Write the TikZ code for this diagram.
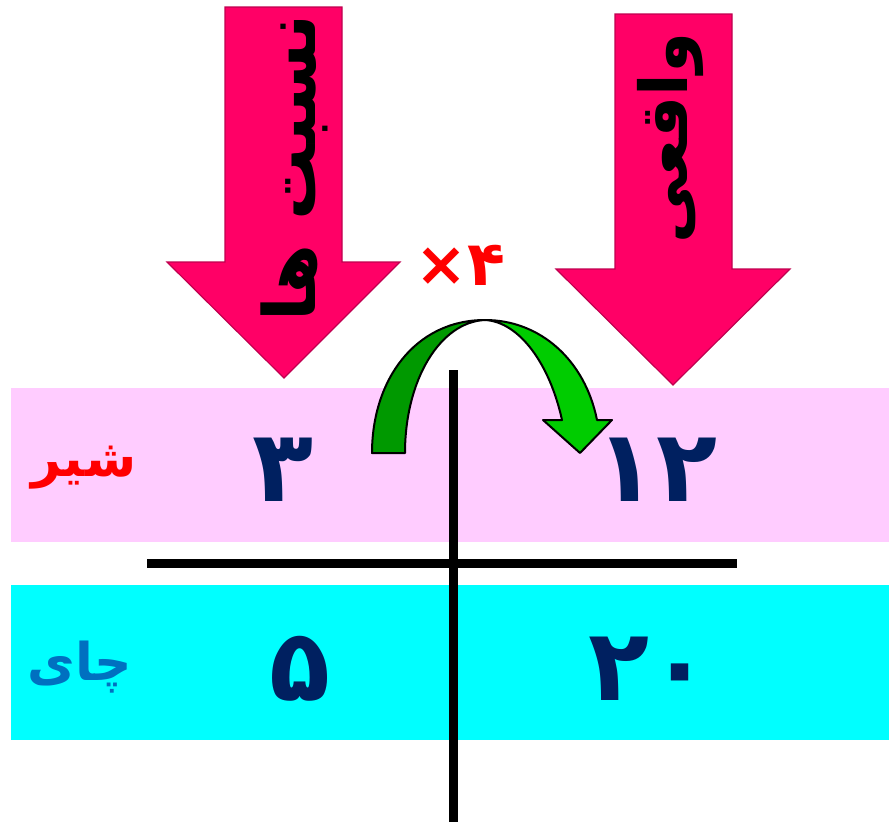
\documentclass[tikz,border=0pt]{standalone}
\usepackage{fontspec}
\TeXXeTstate=1
\newfontfamily\fa[Script=Arabic]{DejaVu Sans}
\definecolor{arrowpink}{HTML}{FF0066}
\definecolor{arrowedge}{HTML}{C0004F}
\definecolor{bandpink}{HTML}{FFCCFF}
\definecolor{bandcyan}{HTML}{00FFFF}
\definecolor{navy}{HTML}{002060}
\definecolor{wordblue}{HTML}{0070C0}
\definecolor{darkgreen}{HTML}{009900}
\definecolor{litegreen}{HTML}{00CC00}
\tikzset{
  bigarrow/.style={fill=arrowpink, draw=arrowedge, line width=1.2pt, line join=miter},
  arrowword/.style={font=\fa\bfseries\fontsize{72}{74}\selectfont, text=black, rotate=90, inner sep=0pt},
  numtext/.style={font=\fa\bfseries\fontsize{100}{100}\selectfont, text=navy, inner sep=0pt},
  rowword/.style={font=\fa\bfseries\fontsize{52}{56}\selectfont, inner sep=0pt},
  gpiece/.style={draw=black, line width=2pt, line join=round},
  crossline/.style={line width=9pt, draw=black}
}
\begin{document}
\begin{tikzpicture}[x=1pt, y=-1pt]
\useasboundingbox (0,0) rectangle (889,825);
% bands
\fill[bandpink] (11,388) rectangle (889,542);
\fill[bandcyan] (11,585) rectangle (889,740);
% big arrows
\draw[bigarrow] (225,7) -- (342,7) -- (342,262) -- (400,262) -- (284,378) -- (167,262) -- (225,262) -- cycle;
\draw[bigarrow] (615,14) -- (732,14) -- (732,269) -- (790,269) -- (673,385) -- (556,269) -- (615,269) -- cycle;
\node[arrowword] (nesbat) at (294,168) {\beginR نسبت ها\endR};
\node[arrowword, font=\fa\bfseries\fontsize{66}{68}\selectfont] (vaghei) at (670,138) {\beginR واقعی\endR};
% cross lines
\coordinate (vtop) at (453,370);
\coordinate (vbot) at (453,822);
\coordinate (hl) at (147,563);
\coordinate (hr) at (737,563);
\draw[crossline] (vtop) -- (vbot);
\draw[crossline] (hl) -- (hr);
% green curved arrow
\draw[gpiece, fill=darkgreen] (372,453) .. controls (372,380) and (415,320) .. (485,320)
   .. controls (440,322) and (405,380) .. (405,453) -- cycle;
\draw[gpiece, fill=litegreen] (485,320) .. controls (540,320) and (585,360) .. (597,420)
   -- (612,420) -- (580,453) -- (543,420) -- (562,420)
   .. controls (550,365) and (520,322) .. (485,320) -- cycle;
\node[font=\fa\bfseries\fontsize{62}{64}\selectfont, text=red, inner sep=0pt] (times) at (460,265) {\mbox{×}\mbox{۴}};
% row texts
\node[rowword, text=red] (shir) at (84,468) {\beginR شیر\endR};
\node[numtext] (three) at (283,470) {۳};
\node[numtext] (twelve) at (657,470) {۱۲};
\node[rowword, text=wordblue] (chai) at (80,667) {\beginR چای\endR};
\node[numtext] (five) at (300,669) {۵};
\node[numtext] (twenty) at (650,669) {۲۰};
\end{tikzpicture}
\end{document}
